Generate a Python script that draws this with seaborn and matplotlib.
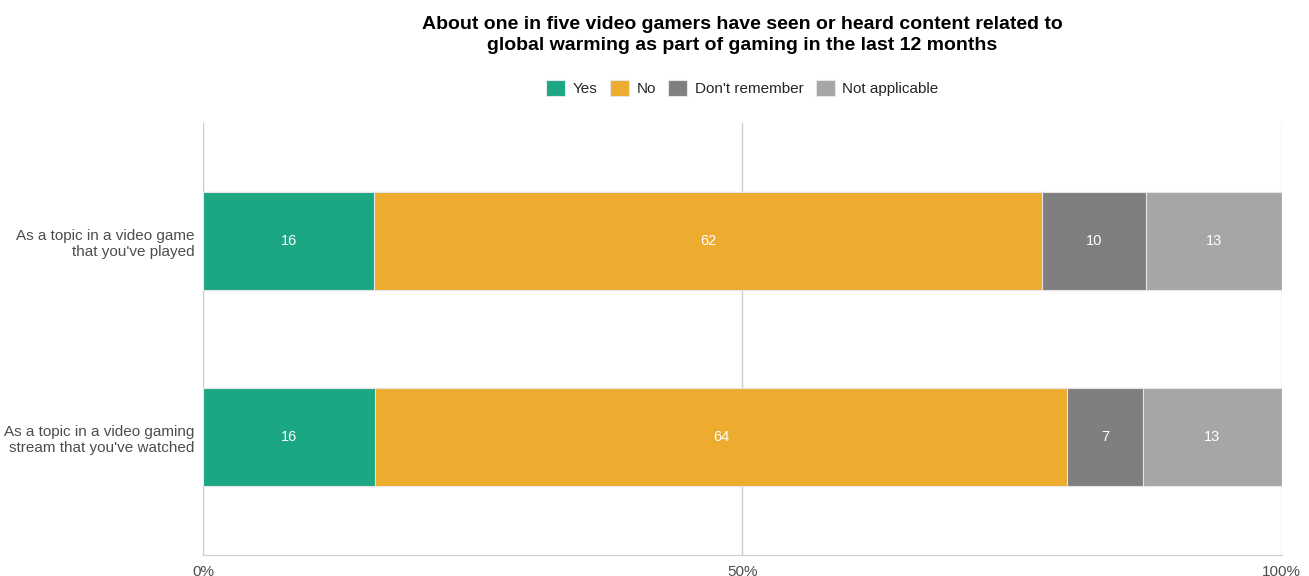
import matplotlib.pyplot as plt
import seaborn as sns
import numpy as np
import pandas as pd

items = ["As a topic in a video game\nthat you've played",
         "As a topic in a video gaming\nstream that you've watched"]
answers = ["Yes", "No", "Don't remember", "Not applicable"]
yes = [15.9, 16.0]
no = [61.9, 64.1]
dont_remember = [9.6, 7.1]
not_applicable = [12.6, 12.8]
colors = ["#1ba784", "#edac2f", "#7f7f7f", "#a6a6a6"]
title = ("About one in five video gamers have seen or heard content related to\n"
         "global warming as part of gaming in the last 12 months")

sns.set_style("white")
plt.rcParams['font.family'] = ['Liberation Sans', 'DejaVu Sans']

df = pd.DataFrame({"item": items, "Yes": yes, "No": no,
                   "Don't remember": dont_remember, "Not applicable": not_applicable})
cum = df[answers].cumsum(axis=1)
cum["item"] = df["item"]

fig = plt.figure(figsize=(13.09, 5.76), dpi=100)
ax = fig.add_axes([0.155, 0.036, 0.824, 0.75])

for ans, col in reversed(list(zip(answers, colors))):
    sns.barplot(data=cum, x=ans, y="item", orient="h", color=col, width=0.5,
                saturation=1, edgecolor="#e6e6e6", linewidth=0.8, ax=ax, label=ans)

# segment labels
for i, row in df.iterrows():
    start = 0
    for ans in answers:
        v = row[ans]
        ax.text(start + v / 2, i, f"{v:.0f}", ha="center", va="center",
                color="white", fontsize=10.5)
        start += v

ax.set_xlim(0, 100)
ax.set_ylim(1.602, -0.602)
ax.set_xticks([0, 50, 100])
ax.set_xticklabels(["0%", "50%", "100%"])
ax.grid(axis="x", color="#cccccc", linewidth=1)
ax.set_axisbelow(True)
ax.set_xlabel("")
ax.set_ylabel("")
for s in ["top", "right", "left"]:
    ax.spines[s].set_visible(False)
ax.spines["bottom"].set_color("#cccccc")
ax.tick_params(axis="x", colors="#4d4d4d", labelsize=11, length=0, pad=7)
ax.tick_params(axis="y", colors="#4d4d4d", labelsize=11, length=0, pad=6)

handles, labels = ax.get_legend_handles_labels()
order = [labels.index(a) for a in answers]
ax.legend([handles[k] for k in order], answers, loc="center", ncol=4,
          bbox_to_anchor=(0.5, 1.081), frameon=False, fontsize=11,
          handlelength=1.25, handleheight=1.25, handletextpad=0.5, columnspacing=0.8)

ax.set_title(title, fontsize=14, fontweight="bold", pad=53, color="black",
             linespacing=1.3)

fig.savefig("out.png", dpi=100)
